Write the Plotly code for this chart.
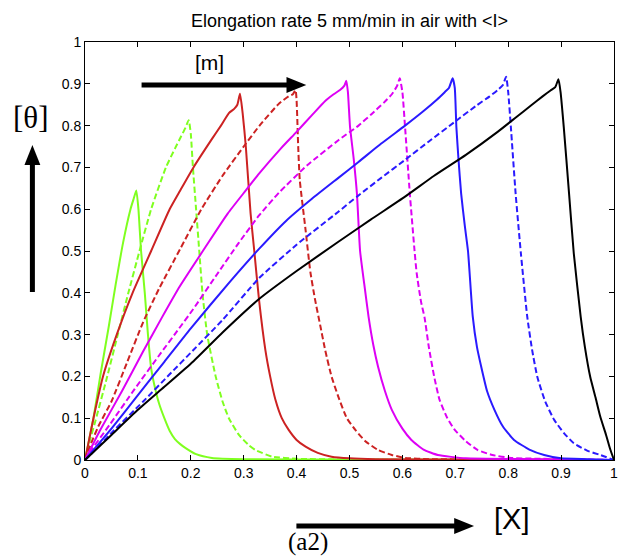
import plotly.graph_objects as go

# ---------------- data ----------------
x1 = [0, 0.008, 0.016, 0.03, 0.045, 0.058, 0.072, 0.086, 0.092, 0.097, 0.101, 0.106, 0.113, 0.119, 0.125, 0.131, 0.140, 0.150, 0.160, 0.170, 0.180, 0.191, 0.21, 0.24, 0.30, 0.50, 0.75, 1.0]
y1 = [0, 0.05, 0.10, 0.21, 0.32, 0.42, 0.52, 0.60, 0.625, 0.645, 0.60, 0.50, 0.40, 0.30, 0.22, 0.18, 0.135, 0.10, 0.07, 0.05, 0.038, 0.028, 0.014, 0.005, 0.002, 0.001, 0.0005, 0]

x2 = [0, 0.01, 0.02, 0.041, 0.062, 0.082, 0.103, 0.125, 0.153, 0.170, 0.182, 0.190, 0.196, 0.200, 0.204, 0.210, 0.216, 0.222, 0.231, 0.247, 0.260, 0.272, 0.291, 0.310, 0.322, 0.354, 0.40, 0.5, 0.75, 1.0]
y2 = [0, 0.05, 0.095, 0.195, 0.30, 0.40, 0.50, 0.60, 0.70, 0.745, 0.775, 0.795, 0.813, 0.78, 0.70, 0.60, 0.50, 0.40, 0.30, 0.20, 0.14, 0.10, 0.06, 0.035, 0.024, 0.008, 0.003, 0.001, 0.0005, 0]

x3 = [0, 0.008, 0.016, 0.034, 0.06, 0.09, 0.125, 0.16, 0.18, 0.205, 0.241, 0.257, 0.272, 0.282, 0.288, 0.293, 0.298, 0.304, 0.313, 0.320, 0.329, 0.341, 0.350, 0.360, 0.372, 0.385, 0.400, 0.417, 0.44, 0.466, 0.50, 0.55, 0.75, 1.0]
y3 = [0, 0.05, 0.10, 0.20, 0.30, 0.40, 0.50, 0.60, 0.645, 0.70, 0.77, 0.80, 0.83, 0.84, 0.85, 0.876, 0.83, 0.75, 0.59, 0.50, 0.383, 0.263, 0.20, 0.144, 0.10, 0.072, 0.048, 0.032, 0.017, 0.008, 0.004, 0.002, 0.001, 0]

x4 = [0, 0.01, 0.025, 0.05, 0.08, 0.11, 0.14, 0.18, 0.22, 0.26, 0.30, 0.33, 0.367, 0.385, 0.393, 0.398, 0.400, 0.403, 0.406, 0.417, 0.426, 0.435, 0.445, 0.454, 0.466, 0.479, 0.495, 0.511, 0.53, 0.554, 0.58, 0.605, 0.65, 0.8, 1.0]
y4 = [0, 0.035, 0.08, 0.14, 0.235, 0.33, 0.41, 0.505, 0.60, 0.68, 0.75, 0.80, 0.853, 0.87, 0.875, 0.885, 0.86, 0.75, 0.67, 0.55, 0.45, 0.383, 0.32, 0.263, 0.20, 0.151, 0.10, 0.072, 0.045, 0.024, 0.012, 0.005, 0.002, 0.001, 0]

x5 = [0, 0.01, 0.028, 0.07, 0.11, 0.145, 0.179, 0.228, 0.27, 0.304, 0.329, 0.37, 0.40, 0.429, 0.455, 0.47, 0.482, 0.490, 0.494, 0.497, 0.501, 0.508, 0.514, 0.520, 0.528, 0.536, 0.545, 0.554, 0.567, 0.58, 0.60, 0.617, 0.64, 0.667, 0.72, 0.85, 1.0]
y5 = [0, 0.025, 0.07, 0.165, 0.26, 0.34, 0.415, 0.51, 0.59, 0.645, 0.685, 0.745, 0.785, 0.825, 0.86, 0.875, 0.885, 0.895, 0.907, 0.88, 0.797, 0.72, 0.638, 0.50, 0.42, 0.343, 0.275, 0.223, 0.165, 0.12, 0.075, 0.048, 0.025, 0.012, 0.004, 0.002, 0]

x6 = [0, 0.01, 0.047, 0.094, 0.14, 0.178, 0.204, 0.25, 0.291, 0.329, 0.367, 0.42, 0.479, 0.517, 0.542, 0.565, 0.58, 0.590, 0.595, 0.600, 0.605, 0.614, 0.623, 0.627, 0.635, 0.642, 0.650, 0.660, 0.670, 0.685, 0.699, 0.72, 0.742, 0.77, 0.805, 0.9, 1.0]
y6 = [0, 0.02, 0.085, 0.17, 0.25, 0.315, 0.36, 0.445, 0.52, 0.585, 0.64, 0.705, 0.765, 0.80, 0.828, 0.855, 0.875, 0.895, 0.913, 0.88, 0.797, 0.638, 0.50, 0.447, 0.38, 0.34, 0.27, 0.20, 0.145, 0.10, 0.072, 0.045, 0.024, 0.012, 0.005, 0.002, 0]

x7 = [0, 0.01, 0.05, 0.10, 0.15, 0.20, 0.273, 0.329, 0.38, 0.429, 0.479, 0.517, 0.56, 0.605, 0.64, 0.665, 0.68, 0.688, 0.695, 0.699, 0.702, 0.706, 0.711, 0.718, 0.724, 0.733, 0.741, 0.749, 0.760, 0.774, 0.79, 0.811, 0.84, 0.868, 0.9, 0.95, 1.0]
y7 = [0, 0.015, 0.075, 0.155, 0.235, 0.315, 0.425, 0.505, 0.572, 0.625, 0.675, 0.713, 0.757, 0.80, 0.835, 0.862, 0.88, 0.89, 0.913, 0.89, 0.797, 0.72, 0.638, 0.56, 0.50, 0.343, 0.27, 0.223, 0.165, 0.12, 0.08, 0.048, 0.025, 0.012, 0.004, 0.002, 0]

x8 = [0, 0.01, 0.05, 0.11, 0.16, 0.204, 0.26, 0.329, 0.40, 0.479, 0.517, 0.56, 0.605, 0.65, 0.70, 0.74, 0.765, 0.78, 0.79, 0.796, 0.800, 0.805, 0.814, 0.824, 0.836, 0.845, 0.855, 0.87, 0.887, 0.905, 0.924, 0.95, 0.974, 1.0]
y8 = [0, 0.012, 0.065, 0.14, 0.205, 0.262, 0.335, 0.435, 0.515, 0.594, 0.633, 0.675, 0.718, 0.762, 0.81, 0.848, 0.87, 0.885, 0.897, 0.917, 0.88, 0.797, 0.638, 0.494, 0.343, 0.265, 0.199, 0.14, 0.096, 0.065, 0.04, 0.022, 0.012, 0]

x9 = [0, 0.01, 0.05, 0.10, 0.15, 0.204, 0.26, 0.329, 0.40, 0.479, 0.54, 0.605, 0.66, 0.72, 0.78, 0.815, 0.843, 0.865, 0.88, 0.889, 0.895, 0.899, 0.905, 0.915, 0.924, 0.937, 0.945, 0.955, 0.965, 0.974, 0.985, 0.993, 1.0]
y9 = [0, 0.012, 0.06, 0.12, 0.175, 0.235, 0.305, 0.385, 0.452, 0.522, 0.575, 0.63, 0.68, 0.73, 0.785, 0.82, 0.848, 0.87, 0.884, 0.892, 0.911, 0.88, 0.797, 0.638, 0.494, 0.343, 0.27, 0.199, 0.15, 0.104, 0.06, 0.025, 0]

series_x = [x1, x2, x3, x4, x5, x6, x7, x8, x9]
series_y = [y1, y2, y3, y4, y5, y6, y7, y8, y9]
colors = ["#7fff1f", "#7fff1f", "#cc2222", "#cc2222", "#dd00f5", "#dd00f5", "#2a1aff", "#2a1aff", "#000000"]
dashes = ["solid", "6px,3px", "solid", "6px,3px", "solid", "6px,3px", "solid", "6px,3px", "solid"]

title_text = "Elongation rate 5 mm/min in air with &lt;I&gt;"
xticks = [0, 0.1, 0.2, 0.3, 0.4, 0.5, 0.6, 0.7, 0.8, 0.9, 1]
yticks = [0, 0.1, 0.2, 0.3, 0.4, 0.5, 0.6, 0.7, 0.8, 0.9, 1]

# ---------------- layout geometry ----------------
W, H = 624, 557
L, R, T, B = 85, 618, 42, 460


def px(x):
    return (x - L) / (R - L)


def py(y):
    return (B - y) / (B - T)


fig = go.Figure()
for xs, ys, c, d in zip(series_x, series_y, colors, dashes):
    fig.add_trace(go.Scatter(x=xs, y=ys, mode="lines",
                             line=dict(color=c, width=2, dash=d, shape="spline", smoothing=0.5),
                             showlegend=False, hoverinfo="skip"))

shapes = []


def harrow(x0, x1, y, head=20, half=8, w=5):
    shapes.append(dict(type="line", xref="paper", yref="paper",
                       x0=px(x0), x1=px(x1 - head + 2), y0=py(y), y1=py(y),
                       line=dict(color="black", width=w)))
    shapes.append(dict(type="path", xref="paper", yref="paper",
                       path=f"M {px(x1 - head)},{py(y - half)} L {px(x1)},{py(y)} L {px(x1 - head)},{py(y + half)} Z",
                       fillcolor="black", line=dict(color="black", width=0)))


def varrow(x, y0, y1, head=20, half=8, w=5):
    shapes.append(dict(type="line", xref="paper", yref="paper",
                       x0=px(x), x1=px(x), y0=py(y0), y1=py(y1 + head - 2),
                       line=dict(color="black", width=w)))
    shapes.append(dict(type="path", xref="paper", yref="paper",
                       path=f"M {px(x - half)},{py(y1 + head)} L {px(x)},{py(y1)} L {px(x + half)},{py(y1 + head)} Z",
                       fillcolor="black", line=dict(color="black", width=0)))


harrow(142, 308, 85)
varrow(32, 292, 145)
harrow(298, 477, 526)

sans = "Liberation Sans, Arial, sans-serif"
serif = "Liberation Serif, Times New Roman, serif"

annotations = [
    dict(text="[m]", x=px(210), y=py(63), xref="paper", yref="paper", showarrow=False,
         font=dict(family=sans, size=21, color="black"), xanchor="center", yanchor="middle"),
    dict(text="[θ]", x=px(31), y=py(118), xref="paper", yref="paper", showarrow=False,
         font=dict(family=serif, size=31, color="black"), xanchor="center", yanchor="middle"),
    dict(text="[X]", x=px(515), y=py(519), xref="paper", yref="paper", showarrow=False,
         font=dict(family=sans, size=29, color="black"), xanchor="center", yanchor="middle"),
    dict(text="(a2)", x=px(310), y=py(542), xref="paper", yref="paper", showarrow=False,
         font=dict(family=serif, size=25, color="black"), xanchor="center", yanchor="middle"),
]

axis_common = dict(range=[0, 1], showgrid=False, zeroline=False, showline=True,
                   linecolor="black", linewidth=1, mirror="ticks", ticks="inside",
                   ticklen=5, tickwidth=1, tickcolor="black",
                   tickfont=dict(family=sans, size=14, color="black"))

fig.update_layout(
    width=W, height=H,
    margin=dict(l=L, r=W - R, t=T, b=H - B, pad=0),
    paper_bgcolor="white", plot_bgcolor="white",
    title=dict(text=title_text, x=px((L + R) / 2), xref="paper", xanchor="center",
               y=1 - 21 / H, yanchor="middle", font=dict(family=sans, size=18, color="black")),
    xaxis=dict(tickvals=xticks, ticktext=[f"{v:g}" for v in xticks], **axis_common),
    yaxis=dict(tickvals=yticks, ticktext=[f"{v:g}" for v in yticks], **axis_common),
    shapes=shapes,
    annotations=annotations,
)

fig.write_html("out.html")
